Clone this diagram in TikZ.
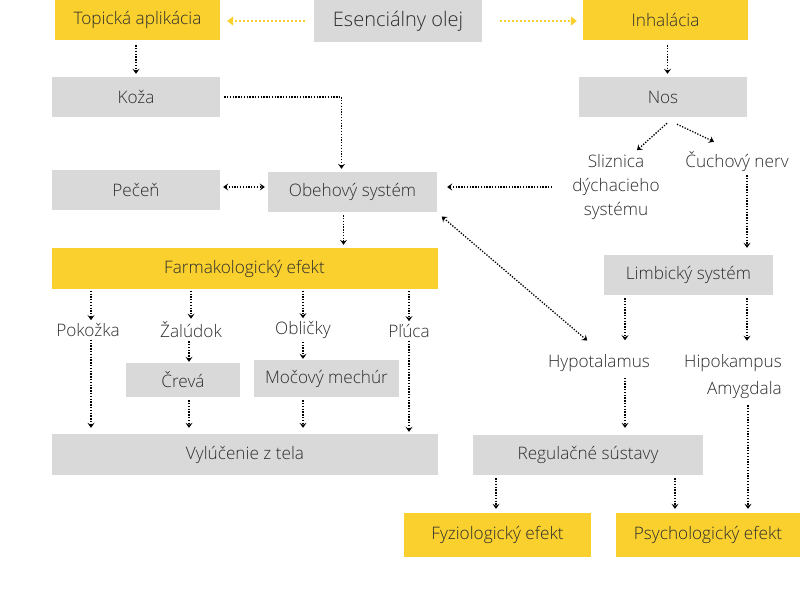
\documentclass[tikz,border=0pt]{standalone}
\usepackage{fontspec}
\setmainfont{Open Sans}[UprightFont={* Light}]
\usetikzlibrary{arrows.meta,calc}
\definecolor{ylw}{RGB}{249,208,46}
\definecolor{gry}{RGB}{217,217,217}
\definecolor{txt}{RGB}{45,45,45}
\begin{document}
\begin{tikzpicture}[x=1pt,y=-1pt,
  font=\fontsize{17.2}{20}\selectfont,
  box/.style={fill=gry, minimum height=40pt, inner sep=0pt, text=txt},
  ybox/.style={box, fill=ylw},
  lbl/.style={inner sep=0pt, text=txt},
  arr/.style={draw=black, line width=1.3pt, dash pattern=on 1.3pt off 1.5pt,
    -{Stealth[length=5pt,width=7pt,inset=2pt]}, shorten <=3pt, shorten >=3pt},
  barr/.style={arr, {Stealth[length=5pt,width=7pt,inset=2pt]}-{Stealth[length=5pt,width=7pt,inset=2pt]}},
  yarr/.style={draw=ylw, line width=2pt, dash pattern=on 2pt off 2pt,
    -{Triangle[length=6pt,width=9pt]}}
]
\useasboundingbox (0,0) rectangle (800,600);

% boxes
\node[ybox, minimum width=165pt] (top) at (137.5,20) {Topická aplikácia};
\node[box, minimum width=168pt, minimum height=42pt, font=\fontsize{20}{23}\selectfont] (ess) at (398,21) {Esenciálny olej};
\node[ybox, minimum width=165pt] (inh) at (665.5,20) {Inhalácia};
\node[box, minimum width=168pt] (koza) at (136,97) {Koža};
\node[box, minimum width=168pt] (nos) at (663,97) {Nos};
\node[box, minimum width=168pt] (pec) at (136,190) {Pečeň};
\node[box, minimum width=169pt] (obeh) at (352.5,192) {Obehový systém};
\node[ybox, minimum width=386pt, minimum height=41pt] (farm) at (244.5,268.5) {Farmakologický efekt};
\node[lbl] (pok) at (88,330) {Pokožka};
\node[lbl] (zal) at (191,330) {Žalúdok};
\node[lbl] (obl) at (303,330) {Obličky};
\node[lbl] (plu) at (409,331) {Pľúca};
\node[box, minimum width=114pt, minimum height=34pt] (crev) at (183,380) {Črevá};
\node[box, minimum width=145pt, minimum height=37pt] (moc) at (326.5,378.5) {Močový mechúr};
\node[box, minimum width=386pt, minimum height=41pt] (vyl) at (245,454.5) {Vylúčenie z tela};
\node[lbl, align=center, font=\fontsize{17.2}{24}\selectfont] (sliz) at (616,187) {Sliznica\\dýchacieho\\systému};
\node[lbl] (cuch) at (737,162) {Čuchový nerv};
\node[box, minimum width=169pt] (limb) at (688.5,275) {Limbický systém};
\node[lbl] (hyp) at (599,363) {Hypotalamus};
\node[lbl, align=right, font=\fontsize{17.2}{27}\selectfont] (hip) at (733,377) {Hipokampus\\Amygdala};
\node[box, minimum width=230pt] (reg) at (588,455) {Regulačné sústavy};
\node[ybox, minimum width=187pt, minimum height=44pt] (fyz) at (497.5,535) {Fyziologický efekt};
\node[ybox, minimum width=184pt, minimum height=44pt] (psy) at (708,535) {Psychologický efekt};

% yellow arrows
\draw[yarr, shorten <=9pt, shorten >=7pt] (ess.west) -- (ess.west -| top.east);
\draw[yarr, shorten <=18pt, shorten >=6pt] (ess.east) -- (ess.east -| inh.west);

% top part
\draw[arr, shorten <=5pt] (top.south -| koza.north) -- (koza.north);
\draw[arr, shorten <=5pt] ($(inh.south)+(2,0)$) -- ($(inh.south |- nos.north)+(2,0)$);
\draw[arr, shorten <=4pt] (koza.east) -| ($(obeh.north)+(-11,0)$);
\draw[barr] ($(pec.east)+(0,-3)$) -- ($(pec.east -| obeh.west)+(0,-3)$);
\draw[arr, shorten <=20pt, shorten >=10pt] (sliz.west) -- (sliz.west -| obeh.east);
\draw[barr, shorten <=2pt, shorten >=1pt] ($(obeh.south east)+(3,3)$) -- ($(hyp.north)+(-11,-13)$);
\draw[arr] ($(obeh.south)+(-9,0)$) -- ($(obeh.south |- farm.north)+(-9,0)$);

% nose branch
\draw[arr, shorten <=0pt, shorten >=0pt] ($(nos.south)+(4,6)$) -- ($(sliz.north)+(21,-4)$);
\draw[arr, shorten <=0pt, shorten >=0pt] ($(nos.south)+(14,7)$) -- ($(cuch.north)+(-23,-10)$);
\draw[arr, shorten >=7pt] ($(cuch.south)+(10,0)$) -- ($(cuch.south |- limb.north)+(10,0)$);
\draw[arr, shorten >=14pt] (limb.south -| hyp.north) ++(26,0) coordinate (lh) -- (lh |- hyp.north);
\draw[arr, shorten >=14pt] ($(limb.south -| hip.north)+(14,0)$) coordinate (lk) -- (lk |- hip.north);
\draw[arr, shorten <=6pt, shorten >=7pt] ($(hyp.south)+(26,0)$) coordinate (hr) -- (hr |- reg.north);
\draw[arr, shorten <=6pt, shorten >=4pt] ($(hip.south)+(15,0)$) coordinate (ap) -- (ap |- psy.north);
\draw[arr, shorten >=4pt] ($(reg.south)+(-92,0)$) coordinate (rf) -- (rf |- fyz.north);
\draw[arr, shorten >=4pt] ($(reg.south)+(87,0)$) coordinate (rp) -- (rp |- psy.north);

% pharmacological branch
\draw[arr, shorten <=1.5pt] ($(farm.south -| pok.north)+(3,0)$) coordinate (p1) -- (p1 |- pok.north);
\draw[arr, shorten <=1.5pt] ($(farm.south -| zal.north)+(0,0)$) coordinate (z1) -- (z1 |- zal.north);
\draw[arr, shorten <=1.5pt] (farm.south -| obl.north) coordinate (o1) -- (o1 |- obl.north);
\draw[arr, shorten <=1.5pt] (farm.south -| plu.north) coordinate (l1) -- (l1 |- plu.north);

\draw[arr, shorten >=6pt] ($(pok.south)+(3,0)$) coordinate (p2) -- (p2 |- vyl.north);
\draw[arr, shorten >=1pt] ($(zal.south)+(-2,0)$) coordinate (z2) -- (z2 |- crev.north);
\draw[arr, shorten >=6pt] (crev.south -| z2) coordinate (c2) -- (c2 |- vyl.north);
\draw[arr, shorten >=1pt] (obl.south) -- (obl.south |- moc.north);
\draw[arr, shorten >=6pt] (moc.south -| obl.south) coordinate (m2) -- (m2 |- vyl.north);
\draw[arr, shorten >=2pt] (plu.south) -- (plu.south |- vyl.north);
\end{tikzpicture}
\end{document}
